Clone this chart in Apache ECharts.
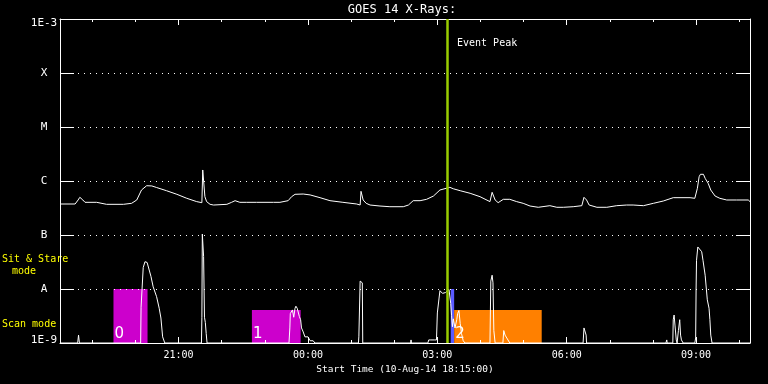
<!DOCTYPE html>
<html>
<head>
<meta charset="utf-8">
<script src="https://cdn.jsdelivr.net/npm/echarts@6/dist/echarts.min.js"></script>
<style>
html,body{margin:0;padding:0;background:#000;}
#chart{width:768px;height:384px;}
</style>
</head>
<body>
<div id="chart"></div>
<script>
// Time in hours since 00:00 on 10-Aug-14 (values > 24 are 11-Aug)
const timeStart = 18.25;   // 18:15
const timeEnd = 34.25;     // 10:15 next day
const eventPeak = 27.217;  // 03:13

// GOES 14 long channel (1-8 A), W/m^2
const longChannel = [
[18.25,3.75e-7],[18.60,3.75e-7],[18.67,4.45e-7],[18.71,4.99e-7],[18.78,4.45e-7],[18.83,4.03e-7],
[19.10,4.03e-7],[19.33,3.70e-7],[19.72,3.70e-7],[19.91,3.86e-7],[20.03,4.45e-7],[20.14,6.81e-7],
[20.26,8.18e-7],[20.38,8.1e-7],[20.49,7.57e-7],[20.72,6.61e-7],[20.96,5.67e-7],[21.19,4.78e-7],
[21.42,4.15e-7],[21.54,3.97e-7],[21.56,1.6e-6],[21.57,1.6e-6],[21.61,5.12e-7],[21.65,4.15e-7],
[21.73,3.70e-7],[21.81,3.59e-7],[22.12,3.70e-7],[22.23,4.03e-7],[22.31,4.32e-7],[22.42,4.03e-7],
[22.58,4.03e-7],[22.81,4.03e-7],[23.20,4.03e-7],[23.35,4.03e-7],[23.54,4.32e-7],[23.62,5.12e-7],
[23.70,5.67e-7],[23.89,5.74e-7],[24.05,5.52e-7],[24.28,4.91e-7],[24.51,4.32e-7],[24.81,4.03e-7],
[25.13,3.75e-7],[25.21,3.59e-7],[25.23,6.44e-7],[25.28,4.45e-7],[25.35,3.86e-7],[25.44,3.59e-7],
[25.67,3.44e-7],[25.90,3.34e-7],[26.21,3.34e-7],[26.33,3.59e-7],[26.44,4.32e-7],[26.60,4.32e-7],
[26.75,4.58e-7],[26.91,5.27e-7],[27.06,6.81e-7],[27.10,7.24e-7],[27.29,7.64e-7],[27.37,7.18e-7],
[27.53,6.61e-7],[27.76,5.92e-7],[27.99,5.12e-7],[28.22,4.15e-7],[28.27,6.18e-7],[28.34,4.45e-7],
[28.41,3.97e-7],[28.53,4.58e-7],[28.68,4.58e-7],[28.84,4.15e-7],[28.99,3.86e-7],[29.15,3.44e-7],
[29.34,3.26e-7],[29.61,3.49e-7],[29.77,3.26e-7],[29.92,3.26e-7],[30.15,3.34e-7],[30.35,3.49e-7],
[30.40,4.99e-7],[30.46,4.45e-7],[30.52,3.59e-7],[30.70,3.26e-7],[30.93,3.26e-7],[31.16,3.49e-7],
[31.39,3.59e-7],[31.54,3.59e-7],[31.78,3.49e-7],[32.01,3.86e-7],[32.24,4.26e-7],[32.47,4.91e-7],
[32.86,4.91e-7],[32.97,4.78e-7],[33.03,7.33e-7],[33.07,1.20e-6],[33.10,1.33e-6],[33.17,1.33e-6],
[33.21,1.12e-6],[33.28,9.06e-7],[33.34,6.81e-7],[33.44,5.27e-7],[33.55,4.78e-7],[33.71,4.45e-7],
[33.94,4.45e-7],[34.21,4.45e-7],[34.25,4.15e-7]
];

// GOES 14 short channel (0.5-4 A), W/m^2 (floor of plot at 1E-9)
const shortChannel = [
[18.25,1e-9],[18.66,1e-9],[18.68,1.4e-9],[18.70,1e-9],
[20.12,1e-9],[20.13,4.6e-9],[20.17,4.8e-9],[20.18,2.5e-8],[20.22,3.2e-8],[20.25,3.3e-8],[20.27,3.1e-8],
[20.36,1.7e-8],[20.41,1.1e-8],[20.49,7.2e-9],[20.55,4.4e-9],[20.59,2.9e-9],[20.63,1.3e-9],[20.68,1e-9],
[21.53,1e-9],[21.54,3.0e-9],[21.55,1.04e-7],[21.57,1.0e-7],[21.58,4e-8],[21.60,3.0e-9],[21.62,2.4e-9],
[21.64,1.5e-9],[21.66,1e-9],
[23.56,1e-9],[23.58,1.9e-9],[23.59,3.5e-9],[23.64,4.1e-9],[23.67,3.0e-9],[23.70,4.4e-9],[23.72,4.8e-9],
[23.75,4.4e-9],[23.78,4.7e-9],[23.80,3.1e-9],[23.83,2.7e-9],[23.85,1.9e-9],[23.89,1.6e-9],[23.93,1.3e-9],
[23.96,1.3e-9],[24.00,1.3e-9],[24.05,1.1e-9],[24.12,1.1e-9],[24.16,1e-9],
[25.17,1e-9],[25.18,1.3e-9],[25.21,1.4e-8],[25.24,1.4e-8],[25.26,1.3e-8],[25.27,1e-9],
[26.38,1e-9],[26.39,1.14e-9],[26.40,1e-9],
[26.78,1e-9],[26.80,1.14e-9],[26.85,1.14e-9],[26.88,1.2e-9],[26.93,1.14e-9],[26.98,1.14e-9],[27.00,3.6e-9],
[27.04,6.8e-9],[27.06,9.3e-9],[27.09,9.6e-9],[27.12,8.3e-9],[27.15,9.0e-9],[27.19,8.6e-9],[27.22,9.2e-9],
[27.27,9.8e-9],[27.29,9.4e-9],[27.31,5.4e-9],[27.33,3.2e-9],[27.35,2.0e-9],[27.37,2.8e-9],[27.41,1.9e-9],
[27.45,2.7e-9],[27.47,3.5e-9],[27.50,4.0e-9],[27.53,2.3e-9],[27.56,1.5e-9],[27.60,1.1e-9],[27.64,1e-9],
[28.22,1e-9],[28.24,1.4e-8],[28.27,1.8e-8],[28.29,1.3e-8],[28.31,1.7e-9],[28.34,1e-9],
[28.52,1e-9],[28.54,1.7e-9],[28.57,1.4e-9],[28.59,1.5e-9],[28.61,1.24e-9],[28.64,1.14e-9],[28.68,1e-9],
[30.38,1e-9],[30.40,1.9e-9],[30.42,2.0e-9],[30.45,1.4e-9],[30.46,1e-9],
[32.30,1e-9],[32.32,1.14e-9],[32.33,1e-9],
[32.46,1e-9],[32.47,2.7e-9],[32.49,3.3e-9],[32.51,2.15e-9],[32.54,1.14e-9],[32.56,1e-9],[32.59,1.7e-9],
[32.62,2.7e-9],[32.64,1.4e-9],[32.66,1.14e-9],[32.70,1e-9],
[32.97,1e-9],[32.99,1.24e-9],[33.00,1.0e-8],[33.01,3.4e-8],[33.04,6.0e-8],[33.07,5.7e-8],[33.13,4.9e-8],
[33.16,3.4e-8],[33.21,1.8e-8],[33.24,9.6e-9],[33.26,6.3e-9],[33.30,4.4e-9],[33.32,2.7e-9],[33.34,1.4e-9],
[33.37,1e-9],
[34.25,1e-9]
];

// Observation mode blocks
const modeStart = [19.49, 22.70, 27.31, 27.39];
const modeEnd   = [20.28, 23.83, 27.39, 29.42];
const modeTop   = [1e-8, 4.1e-9, 1e-8, 4.1e-9];
const modeColor = ['#cc00cc', '#cc00cc', '#5a5aff', '#ff8000'];
const modeLabel = ['0', '1', '', '2'];

// Y tick labels (decades)
const yLabels = {'-9':'1E-9','-8':'A','-7':'B','-6':'C','-5':'M','-4':'X','-3':'1E-3'};
const yMin = 1e-9, yMax = 1e-3;

const MONO = 'DejaVu Sans Mono';
const chart = echarts.init(document.getElementById('chart'), null, {renderer:'canvas'});

function hourLabel(v){
  const r = Math.round(v);
  if (Math.abs(v - r) > 1e-6 || r % 3 !== 0) return '';
  const hh = ((r % 24) + 24) % 24;
  return (hh < 10 ? '0' : '') + hh + ':00';
}

const xCommon = {
  type: 'value', min: timeStart, max: timeEnd, minInterval: 3, maxInterval: 3, splitNumber: 5,
  axisLine: {show: true, lineStyle: {color: '#fff', width: 1}},
  axisTick: {show: true, inside: true, length: 6, lineStyle: {color: '#fff'}},
  minorTick: {show: true, splitNumber: 3, length: 3, lineStyle: {color: '#fff'}},
  splitLine: {show: false},
  z: 3
};
const yCommon = {
  type: 'log', logBase: 10, min: yMin, max: yMax,
  axisLine: {show: true, lineStyle: {color: '#fff', width: 1}},
  axisTick: {show: true, inside: true, length: 14, lineStyle: {color: '#fff'}},
  z: 3
};

const option = {
  backgroundColor: '#000',
  animation: false,
  grid: {left: 60, right: 18, top: 19, bottom: 41, containLabel: false},
  xAxis: [
    Object.assign({}, xCommon, {
      position: 'bottom',
      axisLabel: {show: true, color: '#fff', fontFamily: MONO, fontSize: 10, margin: 7,
        formatter: hourLabel, showMinLabel: false, showMaxLabel: false},
      name: 'Start Time (10-Aug-14 18:15:00)', nameLocation: 'middle', nameGap: 18,
      nameTextStyle: {color: '#fff', fontFamily: MONO, fontSize: 9.5, verticalAlign: 'top'}
    }),
    Object.assign({}, xCommon, {position: 'top', axisLabel: {show: false}})
  ],
  yAxis: [
    Object.assign({}, yCommon, {
      position: 'left',
      splitLine: {show: true, lineStyle: {color: '#fff', width: 1, type: [1, 5]}},
      axisLabel: {show: true, color: '#fff', fontFamily: MONO, fontSize: 11, margin: 16, align: 'center',
        formatter: function(v){
          const e = Math.round(Math.log10(v));
          const t = yLabels[String(e)] || '';
          if (e === -3) return '{top|' + t + '}';
          if (e === -9) return '{bot|' + t + '}';
          return t;
        },
        rich: {
          top: {color:'#fff', fontFamily: MONO, fontSize: 11, padding: [8,0,0,0]},
          bot: {color:'#fff', fontFamily: MONO, fontSize: 11, padding: [0,0,6,0]}
        }
      }
    }),
    Object.assign({}, yCommon, {position: 'right', splitLine: {show: false}, axisLabel: {show: false}})
  ],
  series: [
    {
      name: 'modes', type: 'custom', xAxisIndex: 0, yAxisIndex: 0, z: 1, silent: true,
      data: modeStart.map((s, i) => [s, modeEnd[i], modeTop[i]]),
      encode: {x: [0, 1], y: 2},
      renderItem: function(params, api){
        const i = params.dataIndex;
        const p0 = api.coord([api.value(0), api.value(2)]);
        const p1 = api.coord([api.value(1), yMin]);
        const children = [{
          type: 'rect',
          shape: {x: p0[0], y: p0[1], width: p1[0] - p0[0], height: p1[1] - p0[1]},
          style: {fill: modeColor[i]}
        }];
        if (modeLabel[i]) {
          children.push({
            type: 'text', x: p0[0] + 1, y: p1[1] - 1,
            style: {text: modeLabel[i], fill: '#fff', font: '15px "DejaVu Sans"', verticalAlign: 'bottom', align: 'left'}
          });
        }
        return {type: 'group', children: children};
      }
    },
    {
      name: 'Short', type: 'line', xAxisIndex: 0, yAxisIndex: 0, z: 2,
      data: shortChannel, showSymbol: false, symbol: 'none',
      lineStyle: {color: '#fff', width: 1}, silent: true
    },
    {
      name: 'Long', type: 'line', xAxisIndex: 0, yAxisIndex: 0, z: 2,
      data: longChannel, showSymbol: false, symbol: 'none',
      lineStyle: {color: '#fff', width: 1}, silent: true
    },
    {
      name: 'Event', type: 'line', xAxisIndex: 0, yAxisIndex: 0, z: 4, data: [], silent: true,
      markLine: {
        silent: true, symbol: ['none', 'none'], animation: false,
        lineStyle: {color: '#99cc00', width: 2.5, type: 'solid'},
        label: {show: false},
        data: [{xAxis: eventPeak}]
      }
    }
  ],
  graphic: [
    {type: 'text', x: 402, y: 10, style: {text: 'GOES 14 X-Rays:', fill: '#fff', font: '12px "DejaVu Sans Mono"', align: 'center', verticalAlign: 'middle'}},
    {type: 'text', x: 457, y: 43, style: {text: 'Event Peak', fill: '#fff', font: '10px "DejaVu Sans Mono"', align: 'left', verticalAlign: 'middle'}},
    {type: 'text', x: 2, y: 259, style: {text: 'Sit & Stare', fill: '#ffff00', font: '10px "DejaVu Sans Mono"', align: 'left', verticalAlign: 'middle'}},
    {type: 'text', x: 12, y: 271, style: {text: 'mode', fill: '#ffff00', font: '10px "DejaVu Sans Mono"', align: 'left', verticalAlign: 'middle'}},
    {type: 'text', x: 2, y: 324, style: {text: 'Scan mode', fill: '#ffff00', font: '10px "DejaVu Sans Mono"', align: 'left', verticalAlign: 'middle'}}
  ]
};
chart.setOption(option);
</script>
</body>
</html>
